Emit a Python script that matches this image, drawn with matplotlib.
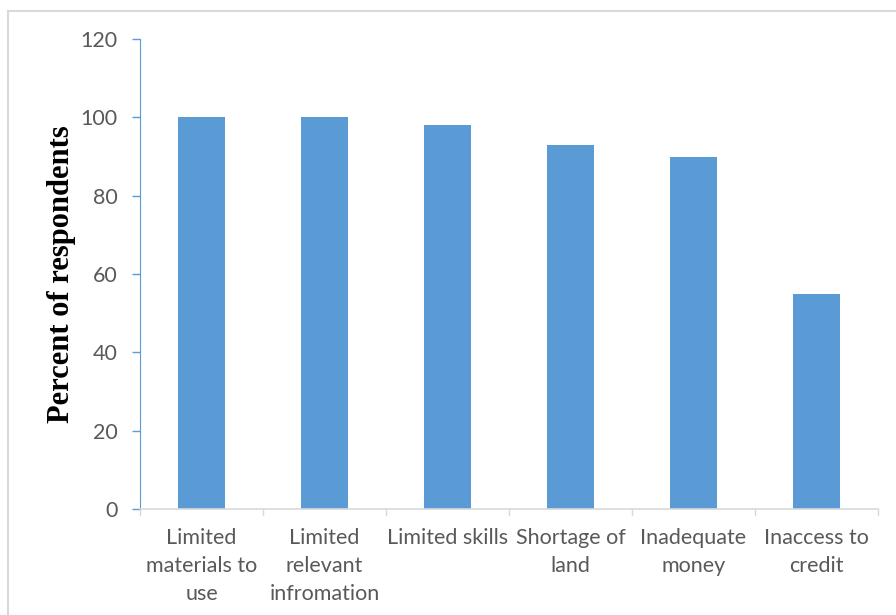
import matplotlib
matplotlib.use("Agg")
import matplotlib.pyplot as plt
from matplotlib.patches import Rectangle

categories = [
    "Limited\nmaterials to\nuse",
    "Limited\nrelevant\ninfromation",
    "Limited skills",
    "Shortage of\nland",
    "Inadequate\nmoney",
    "Inaccess to\ncredit",
]
values = [100, 100, 98, 93, 90, 55]
y_ticks = [0, 20, 40, 60, 80, 100, 120]

W, H = 896, 615
fig = plt.figure(figsize=(W / 100, H / 100), dpi=100)

# outer chart-area frame
fig.patches.append(Rectangle((8 / W, -0.05), 1.0, 1 - 11 / H + 0.05,
                             transform=fig.transFigure, fill=False,
                             edgecolor="#D9D9D9", linewidth=1.5))

ax = fig.add_axes([140 / W, 1 - 509 / H, (878 - 140) / W, (509 - 39) / H])

bar_color = "#5B9BD5"
x = list(range(len(categories)))
ax.bar(x, values, width=0.39, color=bar_color, zorder=2)

ax.set_xlim(-0.5, len(categories) - 0.5)
ax.set_ylim(0, 120)
ax.set_yticks(y_ticks)
ax.set_yticklabels([str(v) for v in y_ticks], fontfamily="Lato", fontsize=15.5, color="#595959")

ax.set_xticks(x)
ax.set_xticklabels(categories, fontfamily="Lato", fontsize=15.5, color="#595959",
                   linespacing=1.5)
ax.tick_params(axis="x", length=0, pad=14)
ax.tick_params(axis="y", length=6, color="#5B9BD5", width=1, pad=10)

# category boundary tick marks along the bottom
for b in [i - 0.5 for i in range(len(categories) + 1)]:
    ax.plot([b, b], [0, -1.6], color="#D9D9D9", lw=1, clip_on=False, zorder=1)

for s in ["top", "right"]:
    ax.spines[s].set_visible(False)
ax.spines["left"].set_color("#5B9BD5")
ax.spines["bottom"].set_color("#D9D9D9")
ax.spines["bottom"].set_linewidth(1.2)

ax.set_ylabel("Percent of respondents", fontfamily="Liberation Serif",
              fontweight="bold", fontsize=22, color="black")
ax.yaxis.set_label_coords((76 - 140) / 738, 0.5)

fig.savefig("out.png", dpi=100)
